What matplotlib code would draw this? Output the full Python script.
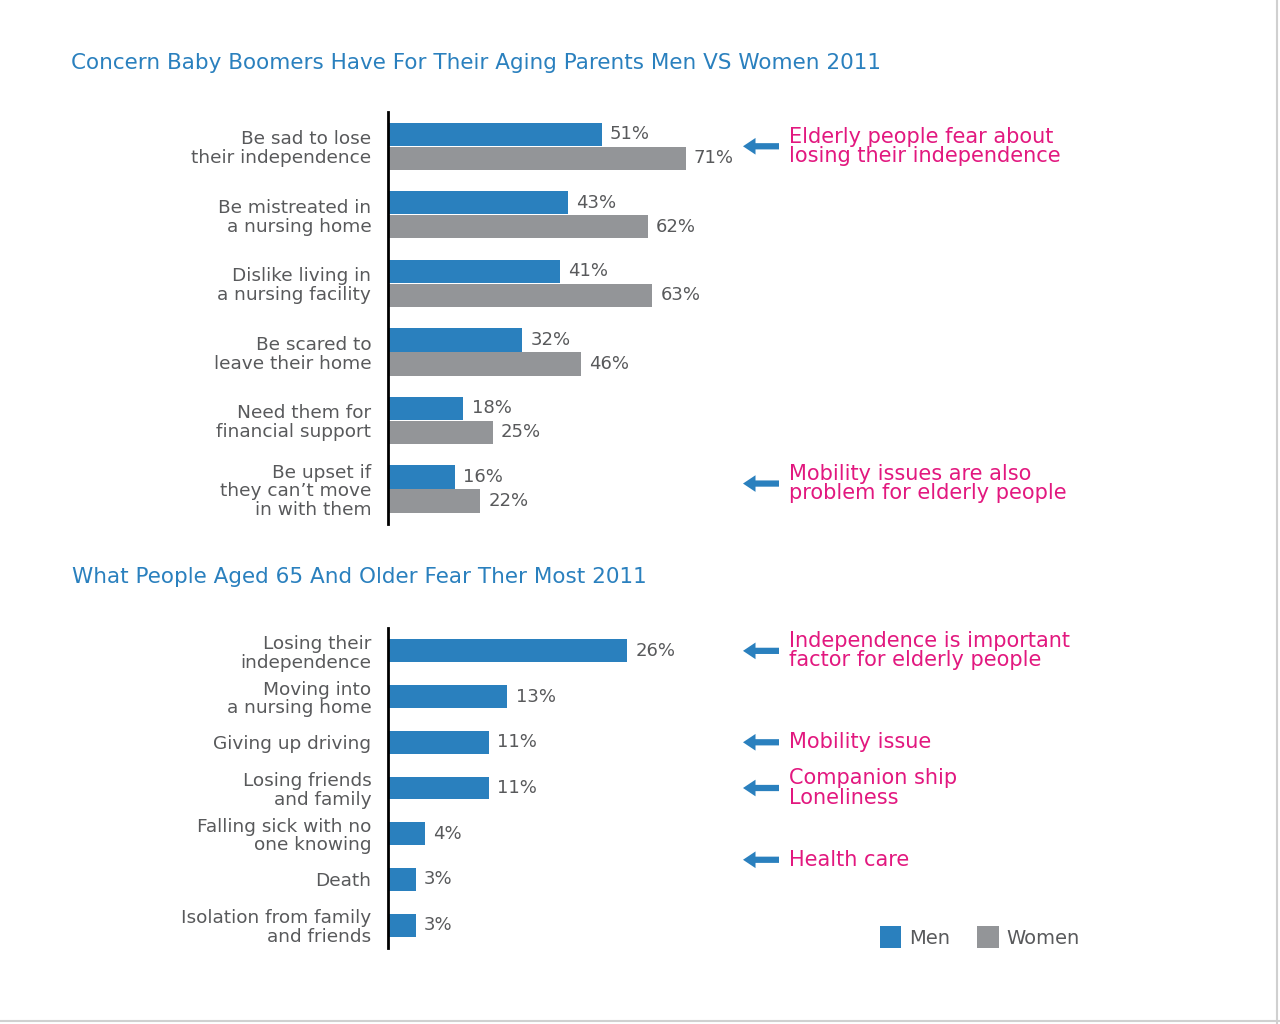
import numpy as np
import matplotlib.pyplot as plt
from matplotlib.patches import Patch
from matplotlib.lines import Line2D
import matplotlib.transforms as mtransforms

plt.rcParams['font.family'] = ['DejaVu Sans']

# data
top_labels = ['Be sad to lose\ntheir independence', 'Be mistreated in\na nursing home',
              'Dislike living in\na nursing facility', 'Be scared to\nleave their home',
              'Need them for\nfinancial support', 'Be upset if\nthey can\u2019t move\nin with them']
top_men = [51, 43, 41, 32, 18, 16]
top_women = [71, 62, 63, 46, 25, 22]

bot_labels = ['Losing their\nindependence', 'Moving into\na nursing home', 'Giving up driving',
              'Losing friends\nand family', 'Falling sick with no\none knowing', 'Death',
              'Isolation from family\nand friends']
bot_values = [26, 13, 11, 11, 4, 3, 3]

top_notes = [(0, 'Elderly people fear about\nlosing their independence'),
             (4.92, 'Mobility issues are also\nproblem for elderly people')]
bot_notes = [(0, 'Independence is important\nfactor for elderly people'),
             (2, 'Mobility issue'),
             (3, 'Companion ship\nLoneliness'),
             (4.57, 'Health care')]

BLUE = '#2a80be'
GRAY = '#939598'
PINK = '#e2187f'
TXT = '#58595b'

W, H = 1280, 1024
fig = plt.figure(figsize=(12.8, 10.24), dpi=100)
fig.patch.set_facecolor('white')


def px_axes(x0, y0, x1, y1):
    return fig.add_axes([x0 / W, 1 - y1 / H, (x1 - x0) / W, (y1 - y0) / H])


def style(ax, labels):
    for s in ['top', 'right', 'bottom']:
        ax.spines[s].set_visible(False)
    ax.spines['left'].set_linewidth(2.0)
    ax.spines['left'].set_color('black')
    ax.set_xticks([])
    ax.set_yticks(np.arange(len(labels)))
    ax.set_yticklabels(labels, fontsize=13.3, color=TXT, linespacing=1.05)
    ax.tick_params(axis='y', length=0, pad=12)


def notes(ax, items):
    tr = mtransforms.blended_transform_factory(fig.transFigure, ax.transData)
    for yv, txt in items:
        ax.annotate('', xy=(743 / W, yv), xytext=(779 / W, yv), xycoords=tr, textcoords=tr,
                    arrowprops=dict(arrowstyle='simple,head_length=0.9,head_width=1.2,tail_width=0.45',
                                    color=BLUE, lw=0, shrinkA=0, shrinkB=0),
                    annotation_clip=False)
        ax.text(789 / W, yv, txt, transform=tr, color=PINK, fontsize=15,
                va='center', ha='left', linespacing=0.95)


# top chart
ax1 = px_axes(388, 112, 740, 524)
y = np.arange(len(top_men))
ax1.barh(y - 0.175, top_men, height=0.34, color=BLUE)
ax1.barh(y + 0.175, top_women, height=0.34, color=GRAY)
for i in range(len(y)):
    ax1.annotate(f'{top_men[i]}%', (top_men[i], y[i] - 0.175), xytext=(6, 0),
                 textcoords='offset points', va='center', fontsize=13, color=TXT)
    ax1.annotate(f'{top_women[i]}%', (top_women[i], y[i] + 0.175), xytext=(6, 0),
                 textcoords='offset points', va='center', fontsize=13, color=TXT)
ax1.set_xlim(0, 84)
ax1.set_ylim(5.51, -0.5)
style(ax1, top_labels)
notes(ax1, top_notes)

# bottom chart
ax2 = px_axes(388, 628, 740, 948)
yb = np.arange(len(bot_values))
ax2.barh(yb, bot_values, height=0.5, color=BLUE)
for i in range(len(yb)):
    ax2.annotate(f'{bot_values[i]}%', (bot_values[i], yb[i]), xytext=(6, 0),
                 textcoords='offset points', va='center', fontsize=13, color=TXT)
ax2.set_xlim(0, 38.3)
ax2.set_ylim(6.5, -0.5)
style(ax2, bot_labels)
notes(ax2, bot_notes)

# titles
fig.text(71 / W, 1 - 63 / H, 'Concern Baby Boomers Have For Their Aging Parents Men VS Women 2011',
         color=BLUE, fontsize=15.5, va='center', ha='left')
fig.text(72 / W, 1 - 577 / H, 'What People Aged 65 And Older Fear Ther Most 2011',
         color=BLUE, fontsize=15.5, va='center', ha='left')

# legend
handles = [Patch(facecolor=BLUE, label='Men'), Patch(facecolor=GRAY, label='Women')]
fig.legend(handles=handles, loc='center', bbox_to_anchor=(980 / W, 1 - 937 / H), ncol=2,
           frameon=False, fontsize=14, labelcolor=TXT, handlelength=1.1, handleheight=1.3,
           handletextpad=0.4, columnspacing=1.4)

# page border
fig.add_artist(Line2D([1277 / W, 1277 / W], [0, 1], color='#d0d0d0', lw=1.5))
fig.add_artist(Line2D([0, 1], [3 / H, 3 / H], color='#d0d0d0', lw=1.5))

fig.savefig('out.png', dpi=100, facecolor='white')
